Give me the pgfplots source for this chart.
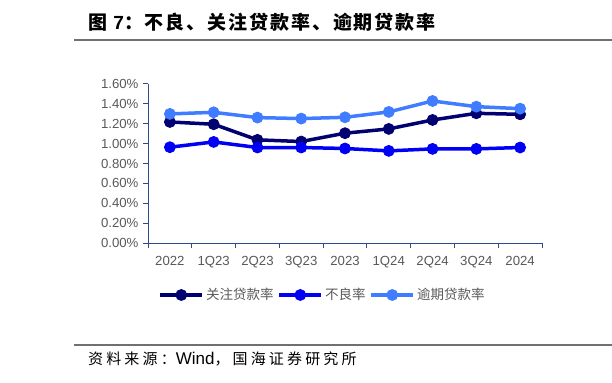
\documentclass[border=0pt]{standalone}
\usepackage{pgfplots}
\pgfplotsset{compat=1.18}
\usepackage{fontspec}
\setmainfont{Liberation Sans}
\newfontfamily\cjk{Noto Sans CJK SC}
\newfontfamily\cjkt{Noto Sans CJK SC}[LetterSpace=10]
\newfontfamily\cjks{Noto Sans CJK SC}[LetterSpace=21]
\definecolor{navyc}{HTML}{000070}
\definecolor{bluec}{HTML}{0000F5}
\definecolor{lightc}{HTML}{3F7CFF}
\definecolor{axisc}{HTML}{2E4A8C}
\definecolor{labc}{HTML}{595959}
\definecolor{rulec}{HTML}{707070}
\begin{document}
\begin{tikzpicture}[x=1bp,y=1bp]
\path[use as bounding box] (0,0) rectangle (612,382);
\draw[rulec, line width=1.3bp] (74,342) -- (612,342);
\draw[rulec, line width=1.3bp] (74,37) -- (612,37);
\node[anchor=west, inner sep=0pt, font=\fontsize{19bp}{21bp}\selectfont\cjkt\bfseries] at (88,360) {图 {\fontspec{Liberation Sans}\bfseries 7}：不良、关注贷款率、逾期贷款率};
\node[anchor=west, inner sep=0pt, font=\fontsize{15bp}{17bp}\selectfont\cjks] at (88,23) {资料来源：{\fontsize{17bp}{17bp}\fontspec{Liberation Sans}Wind}，国海证券研究所};
\begin{axis}[
  at={(148bp,139bp)}, anchor=south west,
  scale only axis, width=394bp, height=159bp,
  xmin=-0.5, xmax=8.5, ymin=0, ymax=1.6,
  axis x line=bottom, axis y line=left,
  axis line style={axisc, line width=1bp, -},
  xtick={-0.5,0.5,...,8.5},
  x tick label as interval,
  xticklabels={2022,1Q23,2Q23,3Q23,2023,1Q24,2Q24,3Q24,2024},
  ytick={0,0.2,...,1.6},
  yticklabel={\pgfmathprintnumber[fixed,fixed zerofill,precision=2]{\tick}\%},
  /pgf/number format/assume math mode=true,
  tick align=outside,
  major tick length=5bp,
  tick style={axisc, line width=1bp},
  ticklabel style={font=\fontsize{13.2bp}{15bp}\selectfont, text=labc},
  xticklabel style={yshift=-5bp},
  yticklabel style={xshift=-1bp},
  legend columns=3,
  legend style={at={(0.443,-0.327)}, anchor=center, draw=none, fill=none,
    font=\fontsize{13.5bp}{15bp}\selectfont\cjk, text=labc,
    /tikz/every even column/.append style={column sep=2bp},
    inner sep=0pt},
  legend image code/.code={\draw[#1, line width=3.5bp, mark repeat=2, mark phase=2] plot coordinates {(0bp,0bp) (21bp,0bp) (42bp,0bp)};},
  every axis plot/.append style={line width=3.5bp, mark=*, mark size=5.5bp},
]
\addplot[navyc, mark options={fill=navyc, draw=navyc, line width=0.8bp}] coordinates {(0,1.218) (1,1.195) (2,1.038) (3,1.021) (4,1.105) (5,1.148) (6,1.238) (7,1.305) (8,1.295)};
\addlegendentry{关注贷款率}
\addplot[bluec, mark options={fill=bluec, draw=bluec, line width=0.8bp}] coordinates {(0,0.964) (1,1.017) (2,0.961) (3,0.961) (4,0.951) (5,0.927) (6,0.947) (7,0.947) (8,0.961)};
\addlegendentry{不良率}
\addplot[lightc, mark options={fill=lightc, draw=lightc, line width=0.8bp}] coordinates {(0,1.299) (1,1.315) (2,1.262) (3,1.252) (4,1.265) (5,1.319) (6,1.429) (7,1.372) (8,1.352)};
\addlegendentry{逾期贷款率}
\end{axis}
\end{tikzpicture}
\end{document}
